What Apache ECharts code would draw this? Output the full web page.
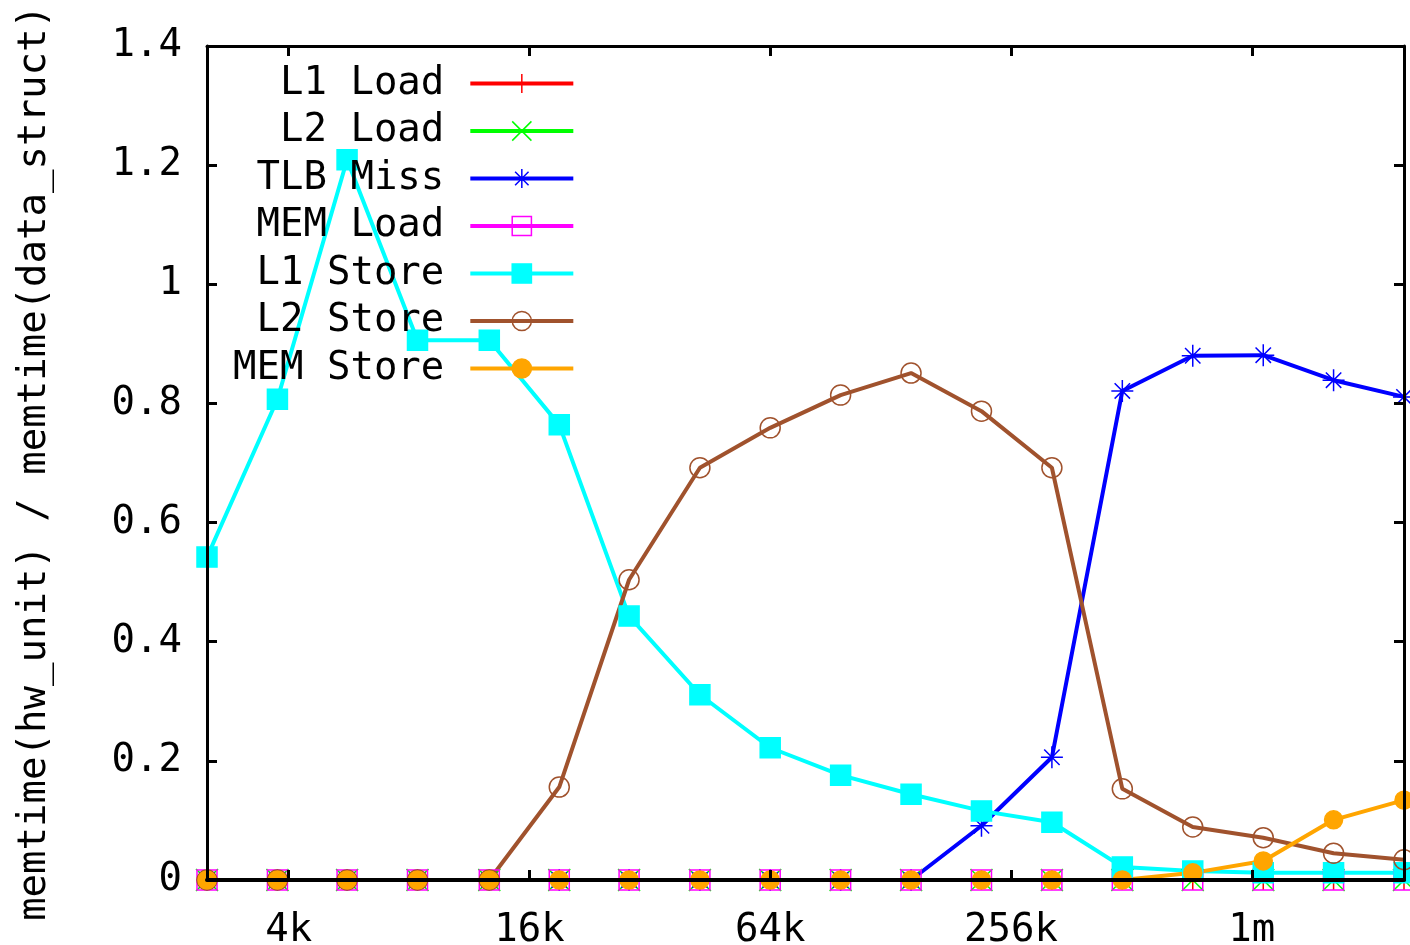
<!DOCTYPE html>
<html>
<head>
<meta charset="utf-8">
<script src="https://cdn.jsdelivr.net/npm/echarts@6/dist/echarts.min.js"></script>
<style>
  html, body { margin: 0; padding: 0; background: #fff; }
  #main { width: 1410px; height: 945px; }
</style>
</head>
<body>
<div id="main"></div>
<script>
// working set sizes in KB (log2 axis)
var sizesKB = [2.5, 3.75, 5.6, 8.4, 12.7, 19, 28.4, 42.7, 64, 96, 144, 216, 324, 486, 729, 1094, 1640, 2460];
var tickKB = [4, 16, 64, 256, 1024];

var l1Load  = [0, 0, 0, 0, 0, 0, 0, 0, 0, 0, 0, 0, 0, 0, 0, 0, 0, 0];
var l2Load  = [0, 0, 0, 0, 0, 0, 0, 0, 0, 0, 0, 0, 0, 0, 0, 0, 0, 0];
var tlbMiss = [0, 0, 0, 0, 0, 0, 0, 0, 0, 0, 0, 0.091, 0.206, 0.821, 0.880, 0.881, 0.839, 0.811];
var memLoad = [0, 0, 0, 0, 0, 0, 0, 0, 0, 0, 0, 0, 0, 0, 0, 0, 0, 0];
var l1Store = [0.542, 0.807, 1.209, 0.906, 0.906, 0.764, 0.443, 0.311, 0.222, 0.176, 0.144, 0.116, 0.097, 0.022, 0.015, 0.012, 0.012, 0.012];
var l2Store = [0, 0, 0, 0, 0, 0.156, 0.504, 0.692, 0.759, 0.814, 0.851, 0.787, 0.692, 0.153, 0.089, 0.071, 0.045, 0.034];
var memStore = [0, 0, 0, 0, 0, 0, 0, 0, 0, 0, 0, 0, 0, 0, 0.012, 0.032, 0.101, 0.134];

var FONT = 'DejaVu Sans Mono';
var FS = 39;

var sym = {
  plus: 'path://M5,0 L5,10 M0,5 L10,5',
  cross: 'path://M0,0 L10,10 M0,10 L10,0',
  star: 'path://M5,0 L5,10 M0,5 L10,5 M1.5,1.5 L8.5,8.5 M1.5,8.5 L8.5,1.5'
};

function pts(vals) {
  return sizesKB.map(function (s, i) { return [Math.log2(s), vals[i]]; });
}

function mkSeries(name, vals, color, symbol, size, fill) {
  return {
    name: name,
    type: 'line',
    data: pts(vals),
    symbol: symbol,
    symbolSize: size,
    showAllSymbol: true,
    clip: false,
    lineStyle: { color: color, width: 4 },
    itemStyle: { color: fill, borderColor: color, borderWidth: 1.5 },
    emphasis: { disabled: true }
  };
}

var xMin = Math.log2(sizesKB[0]);
var xMax = Math.log2(sizesKB[sizesKB.length - 1]);
var xTicks = tickKB.map(function (k) { return Math.log2(k); });

var myChart = echarts.init(document.getElementById('main'));

var option = {
  backgroundColor: '#fff',
  animation: false,
  textStyle: { fontFamily: FONT },
  grid: { left: 207, right: 6, top: 46, bottom: 65, outerBoundsMode: 'none', containLabel: false },
  legend: {
    orient: 'vertical',
    align: 'right',
    left: 228,
    top: 59,
    itemWidth: 103,
    itemHeight: 24,
    itemGap: 8.5,
    selectedMode: false,
    lineStyle: { width: 4 },
    itemStyle: { borderWidth: 1.5 },
    textStyle: { fontFamily: FONT, fontSize: FS, color: '#000', padding: [0, 21, 0, 0] },
    data: ['L1 Load', 'L2 Load', 'TLB Miss', 'MEM Load', 'L1 Store', 'L2 Store', 'MEM Store']
  },
  xAxis: [{
    type: 'value',
    min: xMin,
    max: xMax,
    z: 10,
    splitLine: { show: false },
    axisLine: { show: true, lineStyle: { color: '#000', width: 4 } },
    axisTick: { show: true, inside: true, length: 10, customValues: xTicks, lineStyle: { color: '#000', width: 3 } },
    axisLabel: {
      customValues: xTicks,
      margin: 31,
      fontFamily: FONT, fontSize: FS, color: '#000',
      formatter: function (v) {
        var kb = Math.round(Math.pow(2, v));
        return kb >= 1024 ? (kb / 1024) + 'm' : kb + 'k';
      }
    }
  }, {
    type: 'value',
    position: 'top',
    min: xMin,
    max: xMax,
    z: 10,
    splitLine: { show: false },
    axisLine: { show: true, onZero: false, lineStyle: { color: '#000', width: 3 } },
    axisTick: { show: true, inside: true, length: 10, customValues: xTicks, lineStyle: { color: '#000', width: 3 } },
    axisLabel: { show: false }
  }],
  yAxis: [{
    type: 'value',
    min: 0,
    max: 1.4,
    interval: 0.2,
    z: 10,
    name: 'memtime(hw_unit) / memtime(data_struct)',
    nameLocation: 'middle',
    nameRotate: 90,
    nameGap: 153,
    nameTextStyle: { fontFamily: FONT, fontSize: FS, color: '#000' },
    splitLine: { show: false },
    axisLine: { show: true, lineStyle: { color: '#000', width: 3 } },
    axisTick: { show: true, inside: true, length: 10, lineStyle: { color: '#000', width: 3 } },
    axisLabel: { margin: 25, fontFamily: FONT, fontSize: FS, color: '#000' }
  }, {
    type: 'value',
    position: 'right',
    min: 0,
    max: 1.4,
    interval: 0.2,
    z: 10,
    splitLine: { show: false },
    axisLine: { show: true, onZero: false, lineStyle: { color: '#000', width: 3 } },
    axisTick: { show: true, inside: true, length: 10, lineStyle: { color: '#000', width: 3 } },
    axisLabel: { show: false }
  }],
  series: [
    mkSeries('L1 Load', l1Load, '#ff0000', sym.plus, 20, '#ff0000'),
    mkSeries('L2 Load', l2Load, '#00ff00', sym.cross, 22, '#00ff00'),
    mkSeries('TLB Miss', tlbMiss, '#0000ff', sym.star, 22, '#0000ff'),
    mkSeries('MEM Load', memLoad, '#ff00ff', 'rect', 20, 'rgba(0,0,0,0)'),
    mkSeries('L1 Store', l1Store, '#00ffff', 'rect', 20, '#00ffff'),
    mkSeries('L2 Store', l2Store, '#a0522d', 'circle', 20, 'rgba(0,0,0,0)'),
    mkSeries('MEM Store', memStore, '#ffa500', 'circle', 18, '#ffa500')
  ]
};

myChart.setOption(option);
</script>
</body>
</html>
